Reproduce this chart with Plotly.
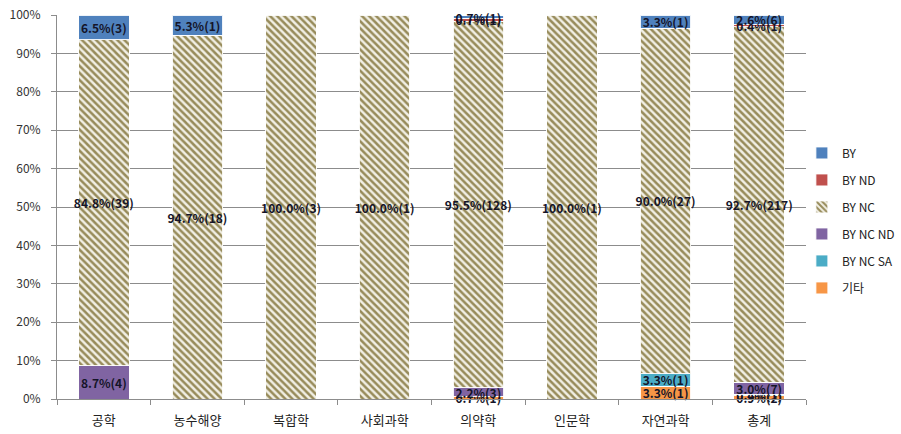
import plotly.graph_objects as go

categories = ["공학", "농수해양", "복합학", "사회과학", "의약학", "인문학", "자연과학", "총계"]

# percentages (as labelled) and counts, per licence, per category
series_names = ["기타", "BY NC SA", "BY NC ND", "BY NC", "BY ND", "BY"]  # bottom -> top

pct_other = [0, 0, 0, 0, 0.7, 0, 3.3, 0.9]
cnt_other = [0, 0, 0, 0, 1, 0, 1, 2]

pct_by_nc_sa = [0, 0, 0, 0, 0, 0, 3.3, 0.4]
cnt_by_nc_sa = [0, 0, 0, 0, 0, 0, 1, 1]

pct_by_nc_nd = [8.7, 0, 0, 0, 2.2, 0, 0, 3.0]
cnt_by_nc_nd = [4, 0, 0, 0, 3, 0, 0, 7]

pct_by_nc = [84.8, 94.7, 100.0, 100.0, 95.5, 100.0, 90.0, 92.7]
cnt_by_nc = [39, 18, 3, 1, 128, 1, 27, 217]

pct_by_nd = [0, 0, 0, 0, 0.7, 0, 0, 0.4]
cnt_by_nd = [0, 0, 0, 0, 1, 0, 0, 1]

pct_by = [6.5, 5.3, 0, 0, 0.7, 0, 3.3, 2.6]
cnt_by = [3, 1, 0, 0, 1, 0, 1, 6]

y_ticks = [0, 10, 20, 30, 40, 50, 60, 70, 80, 90, 100]
y_tick_labels = ["0%", "10%", "20%", "30%", "40%", "50%", "60%", "70%", "80%", "90%", "100%"]

colors = {
    "기타": "#F79646",
    "BY NC SA": "#4BACC6",
    "BY NC ND": "#8064A2",
    "BY NC": "#948A54",
    "BY ND": "#C0504D",
    "BY": "#4F81BD",
}

data = [
    ("기타", pct_other, cnt_other),
    ("BY NC SA", pct_by_nc_sa, cnt_by_nc_sa),
    ("BY NC ND", pct_by_nc_nd, cnt_by_nc_nd),
    ("BY NC", pct_by_nc, cnt_by_nc),
    ("BY ND", pct_by_nd, cnt_by_nd),
    ("BY", pct_by, cnt_by),
]

FONT = "Noto Sans CJK KR"
fig = go.Figure()
for i, (name, pct, cnt) in enumerate(data):
    yv = [p if c else None for p, c in zip(pct, cnt)]
    txt = [f"{p:.1f}%({c})" if c else "" for p, c in zip(pct, cnt)]
    marker = dict(color=colors[name], line=dict(color="rgba(255,255,255,0.9)", width=1))
    if name == "BY NC":
        marker["pattern"] = dict(shape="\\", fgcolor="#978B5A", bgcolor="#F1EFE4",
                                 size=5, solidity=0.5, fillmode="replace")
    fig.add_trace(go.Bar(
        x=categories, y=yv, name=name, text=txt,
        textposition="inside", insidetextanchor="middle", textangle=0,
        constraintext="none", cliponaxis=False,
        insidetextfont=dict(family=FONT, size=12, color="#141428", weight="bold"),
        marker=marker, legendgroup=name, legendrank=len(data) - i,
        hovertemplate="%{x}<br>" + name + ": %{y}%<extra></extra>",
    ))

fig.update_layout(
    width=901, height=434,
    margin=dict(l=57, r=95, t=15, b=35, autoexpand=False),
    barmode="stack", bargap=0.46,
    plot_bgcolor="white", paper_bgcolor="white",
    font=dict(family=FONT, size=12, color="#333333"),
    showlegend=True,
    legend=dict(xref="container", x=0.89, xanchor="left", y=0.465, yanchor="middle",
                traceorder="grouped", tracegroupgap=8,
                font=dict(family=FONT, size=12, color="#222222"),
                bgcolor="rgba(0,0,0,0)"),
)
fig.update_yaxes(range=[0, 100], tickmode="array", tickvals=y_ticks, ticktext=y_tick_labels,
                 showgrid=True, gridcolor="#8C8C8C", gridwidth=1,
                 showline=True, linecolor="#8C8C8C", linewidth=1,
                 ticks="outside", ticklen=5, tickcolor="#8C8C8C", ticklabelstandoff=8,
                 tickfont=dict(family=FONT, size=12, color="#333333"),
                 zeroline=False, automargin=False)
fig.update_xaxes(showline=True, linecolor="#8C8C8C", linewidth=1,
                 ticks="outside", ticklen=5, tickcolor="#8C8C8C",
                 tickson="boundaries", ticklabelstandoff=9,
                 tickfont=dict(family=FONT, size=13, color="#222222"),
                 automargin=False)

fig.write_html("out.html", config={"displayModeBar": False},
               post_script="document.body.style.margin='0';")
